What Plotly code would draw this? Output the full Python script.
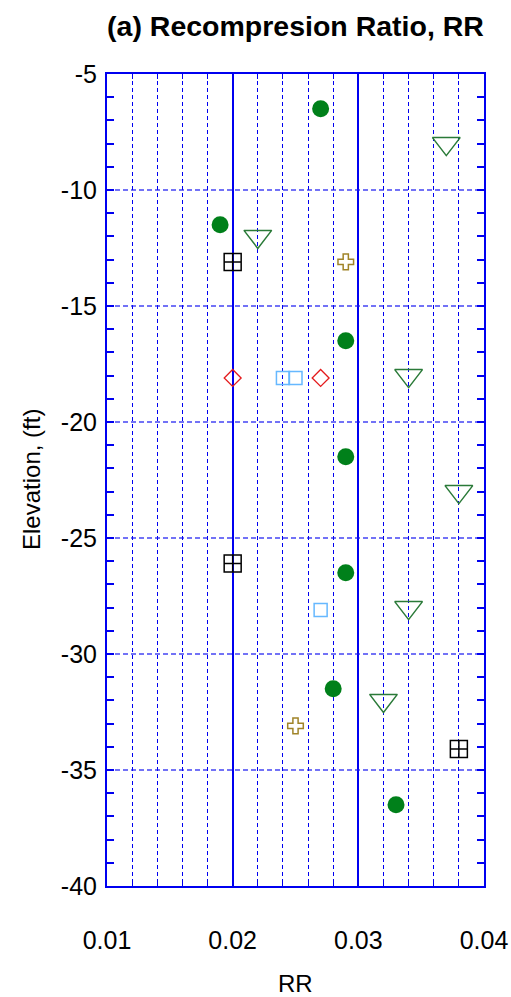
import plotly.graph_objects as go

# ---- data ----
circle_x = [0.027, 0.019, 0.029, 0.029, 0.029, 0.028, 0.033]
circle_y = [-6.5, -11.5, -16.5, -21.5, -26.5, -31.5, -36.5]

tri_x = [0.037, 0.022, 0.034, 0.038, 0.034, 0.032]
tri_y = [-8, -12, -18, -23, -28, -32]

sqx_x = [0.020, 0.020, 0.038]
sqx_y = [-13.1, -26.1, -34.1]

diam_x = [0.020, 0.027]
diam_y = [-18.1, -18.1]

sqb_x = [0.024, 0.025, 0.027]
sqb_y = [-18.1, -18.1, -28.1]

cross_x = [0.029, 0.025]
cross_y = [-13.1, -33.1]

x_ticks = [0.01, 0.02, 0.03, 0.04]
x_tick_text = ["0.01", "0.02", "0.03", "0.04"]
y_ticks = [-5, -10, -15, -20, -25, -30, -35, -40]
y_tick_text = ["-5", "-10", "-15", "-20", "-25", "-30", "-35", "-40"]

FONT = "Liberation Sans, Arial, sans-serif"
BLUE = "#0000f0"

fig = go.Figure()
fig.add_trace(go.Scatter(x=circle_x, y=circle_y, mode="markers",
                         marker=dict(symbol="circle", size=17, color="#00801a", line=dict(width=0))))
fig.add_trace(go.Scatter(x=tri_x, y=tri_y, mode="markers",
                         marker=dict(symbol="triangle-down-open", size=24, color="#2a7a38", line=dict(width=1.5))))
fig.add_trace(go.Scatter(x=sqx_x, y=sqx_y, mode="markers",
                         marker=dict(symbol="square-cross-open", size=17, color="#000000", line=dict(width=1.5))))
fig.add_trace(go.Scatter(x=diam_x, y=diam_y, mode="markers",
                         marker=dict(symbol="diamond-open", size=13, color="#e41a1c", line=dict(width=1.3))))
fig.add_trace(go.Scatter(x=sqb_x, y=sqb_y, mode="markers",
                         marker=dict(symbol="square-open", size=13, color="#66b8ff", line=dict(width=1.5))))
fig.add_trace(go.Scatter(x=cross_x, y=cross_y, mode="markers",
                         marker=dict(symbol="cross-open", size=13, color="#a08428", line=dict(width=1.5))))

fig.update_layout(
    width=511, height=997,
    margin=dict(l=107, r=27, t=74, b=111, autoexpand=False),
    paper_bgcolor="white", plot_bgcolor="white",
    showlegend=False,
    font=dict(family=FONT, color="black", size=25),
    title=dict(text="(a) Recompresion Ratio, RR", x=0.5, xref="paper", xanchor="center",
               y=1 - 26 / 997, yref="container", yanchor="middle",
               font=dict(family=FONT, size=28.5, color="black", weight="bold")),
    xaxis=dict(range=[0.01, 0.04], tickvals=x_ticks, ticktext=x_tick_text, automargin=False,
               showgrid=True, gridcolor=BLUE, gridwidth=1.5,
               showline=True, linecolor=BLUE, linewidth=2, mirror="ticks",
               ticks="inside", ticklen=6, tickcolor=BLUE, tickwidth=1,
               ticklabelstandoff=31, zeroline=False,
               tickfont=dict(size=25, family=FONT),
               minor=dict(dtick=0.002, tick0=0.01, showgrid=True, gridcolor=BLUE, gridwidth=1,
                          griddash="4px,3px", ticks="inside", ticklen=5, tickcolor=BLUE)),
    yaxis=dict(range=[-40, -5], tickvals=y_ticks, ticktext=y_tick_text, automargin=False,
               showgrid=True, gridcolor="rgba(20,20,240,0.6)", gridwidth=1.5, griddash="5px,3px",
               showline=True, linecolor=BLUE, linewidth=2, mirror="ticks",
               ticks="inside", ticklen=7, tickcolor=BLUE, tickwidth=1.5, zeroline=False,
               ticklabelstandoff=3,
               tickfont=dict(size=25, family=FONT),
               minor=dict(dtick=1, tick0=-40, showgrid=False, ticks="inside", ticklen=7,
                          tickcolor=BLUE, tickwidth=1.5)),
    annotations=[
        dict(text="RR", x=0.5, xref="paper", y=-(983 - 886) / 812, yref="paper",
             xanchor="center", yanchor="middle", showarrow=False,
             font=dict(size=24, family=FONT, color="black")),
        dict(text="Elevation, (ft)", x=-(107 - 31) / 377, xref="paper", y=0.5, yref="paper",
             xanchor="center", yanchor="middle", showarrow=False, textangle=-90,
             font=dict(size=24, family=FONT, color="black")),
    ],
)

fig.write_html("out.html")
